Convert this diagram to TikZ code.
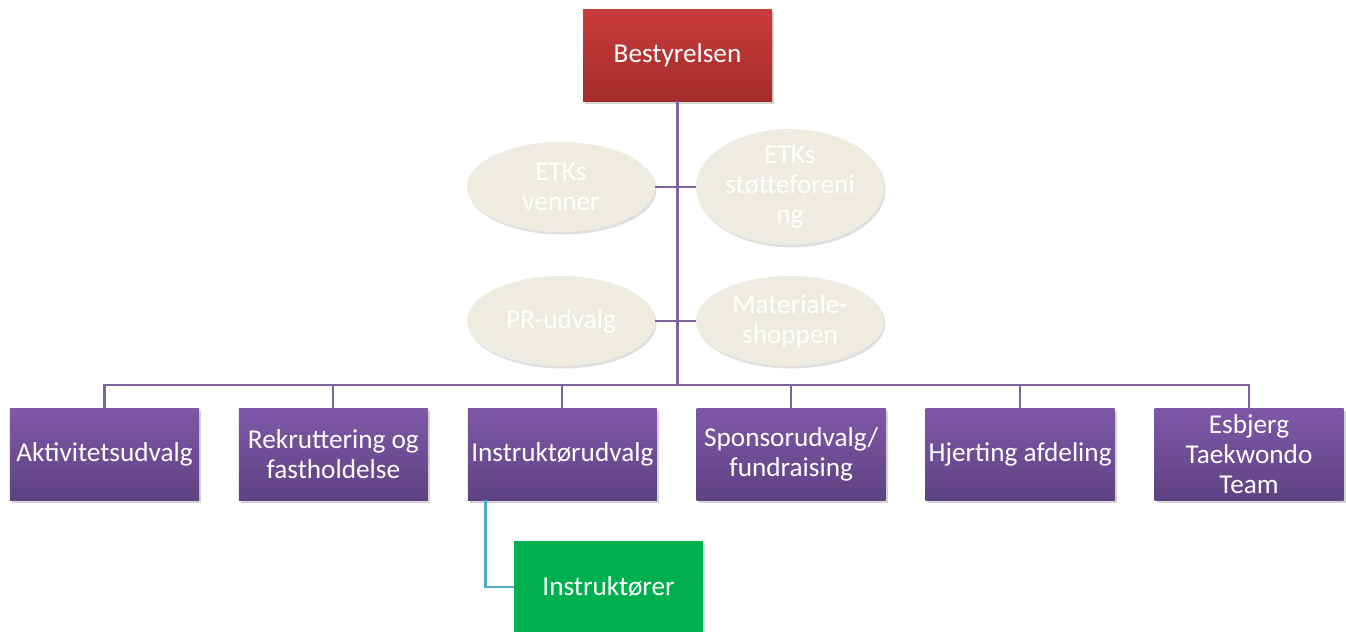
\documentclass[tikz,border=0pt]{standalone}
\usepackage{fontspec}
\setmainfont{Carlito}
\usetikzlibrary{positioning,shadows,shapes.geometric}

\definecolor{boardred}{HTML}{C93C3B}
\definecolor{boardreddark}{HTML}{A42C2B}
\definecolor{unitpurple}{HTML}{7F58A8}
\definecolor{unitpurpledark}{HTML}{5E4282}
\definecolor{linepurple}{HTML}{8064A2}
\definecolor{lineblue}{HTML}{4BACC6}
\definecolor{staffgreen}{HTML}{00B050}
\definecolor{ovalbeige}{HTML}{EEECE1}

\tikzset{
  unit/.style={rectangle, text width=3.78cm, inner xsep=0pt, minimum height=1.84cm,
    align=flush center, text=white, font=\fontsize{15.5}{17}\selectfont,
    drop shadow={opacity=0.35, shadow xshift=0.04cm, shadow yshift=-0.06cm}},
  board/.style={unit, top color=boardred, bottom color=boardreddark},
  committee/.style={unit, top color=unitpurple, bottom color=unitpurpledark},
  staff/.style={unit, fill=staffgreen},
  oval/.style={ellipse, minimum width=3.76cm, minimum height=1.8cm, inner sep=0pt,
    align=center, fill=ovalbeige, text=white, font=\fontsize{15.5}{17}\selectfont,
    drop shadow={opacity=0.25, shadow xshift=0.03cm, shadow yshift=-0.05cm}},
  tree/.style={draw=linepurple, line width=1.2pt},
  sub/.style={draw=lineblue, line width=1.2pt}
}

\begin{document}
\begin{tikzpicture}
    \useasboundingbox (0,0) rectangle (26.92,-12.64);

    \node[board] (best) at (13.55,-1.10) {Bestyrelsen};

    \node[oval] (venner)  at (11.22,-3.74) {ETKs\\venner};
    \node[oval] (stoette) at (15.80,-3.74) {ETKs\\støtteforeni\\ng};
    \node[oval] (pr)      at (11.22,-6.42) {PR-udvalg};
    \node[oval] (shop)    at (15.80,-6.42) {Materiale-\\shoppen};

    \node[committee] (akt) at (2.09,-9.08) {Aktivitetsudvalg};
    \node[committee] (rek)   [right=0.784cm of akt] {Rekruttering og\\fastholdelse};
    \node[committee] (instu) [right=0.784cm of rek] {Instruktørudvalg};
    \node[committee] (spons) [right=0.784cm of instu] {Sponsorudvalg/\\fundraising};
    \node[committee] (hjert) [right=0.784cm of spons] {Hjerting afdeling};
    \node[committee] (team)  [right=0.784cm of hjert] {Esbjerg\\Taekwondo\\Team};

    \node[staff] (instr) at (12.17,-11.74) {Instruktører};

    \coordinate (bus) at (best.south |- 0,-7.70);

    % trunk and bus
    \draw[tree] (best.south) -- (bus);
    \foreach \n in {venner,pr}
      \draw[tree] (\n.east) -- (\n.east -| bus);
    \foreach \n in {stoette,shop}
      \draw[tree] (\n.west) -- (\n.west -| bus);
    \foreach \n in {akt,rek,instu,spons,hjert,team}
      \draw[tree] (\n.north) |- (bus);

    % instructors
    \draw[sub] ([xshift=0.36cm]instu.south west) |- (instr.west);
\end{tikzpicture}
\end{document}
